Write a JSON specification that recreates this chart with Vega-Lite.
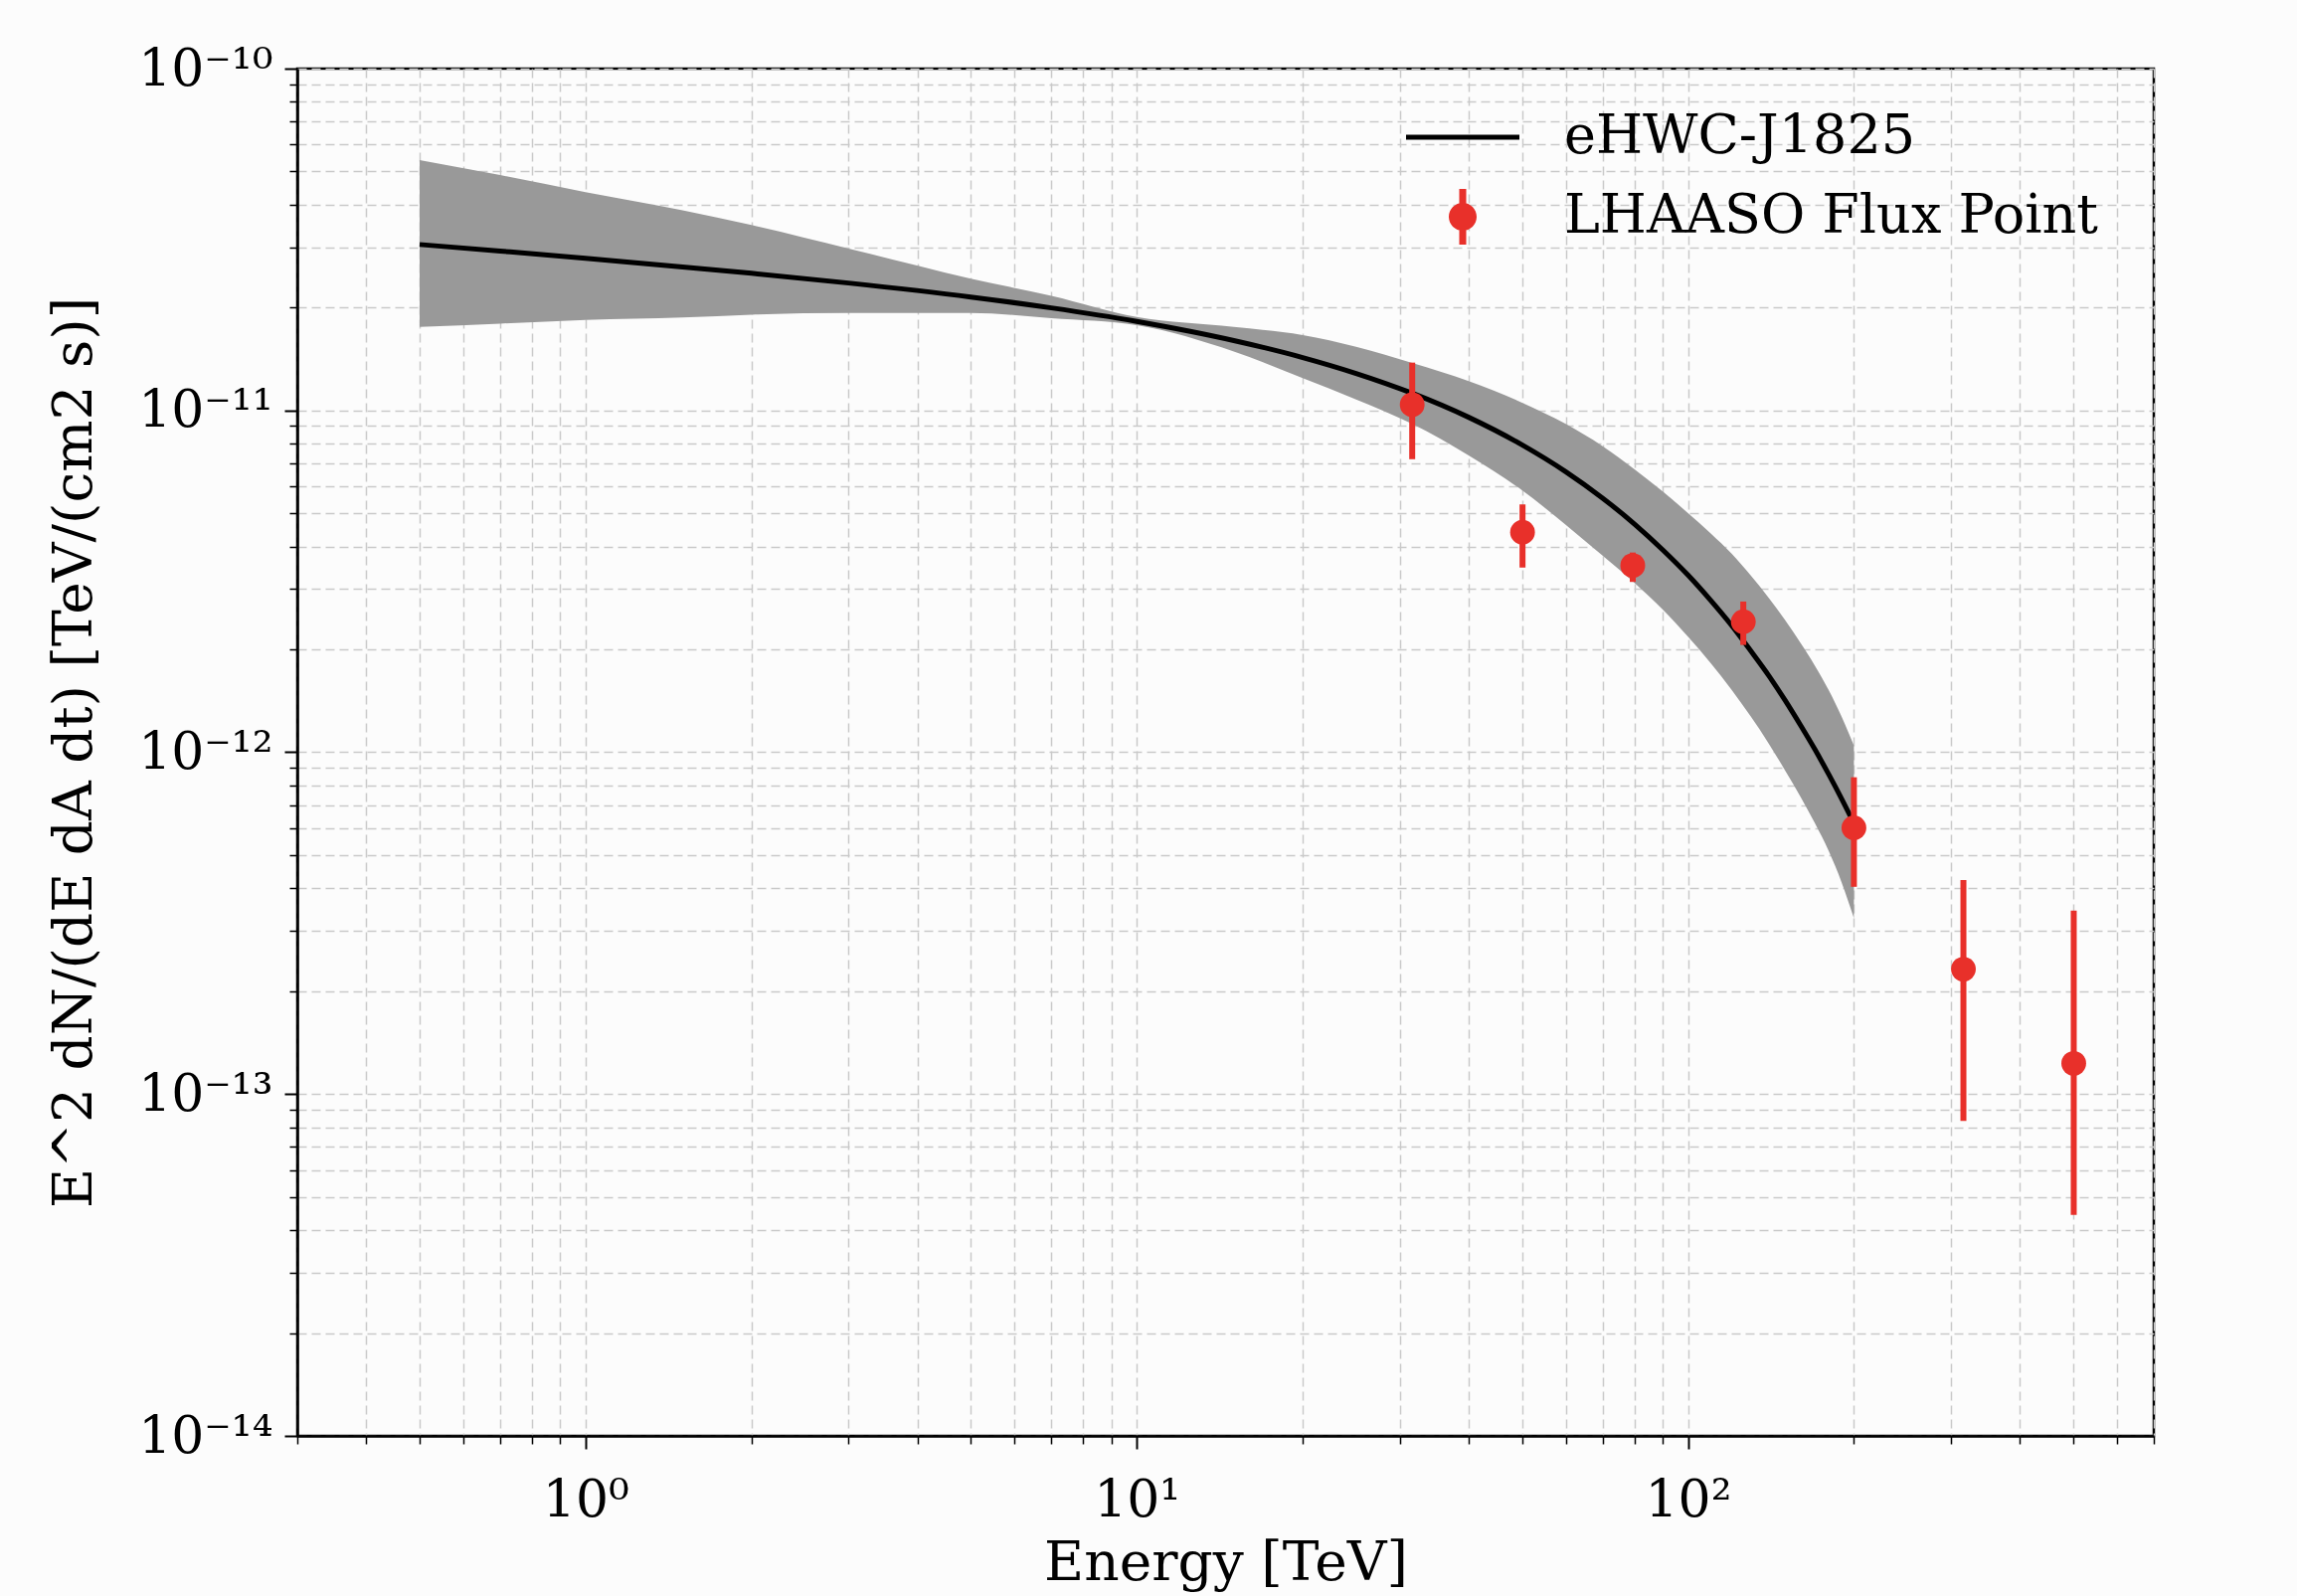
{
  "$schema": "https://vega.github.io/schema/vega-lite/v6.json",
  "width": 1867,
  "height": 1375,
  "autosize": {"type": "none"},
  "padding": {"left": 299, "top": 69, "right": 144, "bottom": 161},
  "background": "#fcfcfc",
  "config": {
    "view": {"stroke": "#000000", "strokeWidth": 2.5, "fill": "#fcfcfc"},
    "axis": {
      "grid": true,
      "gridColor": "#c9c9c9",
      "gridDash": [9, 5],
      "gridWidth": 1.5,
      "domainColor": "#000000",
      "domainWidth": 2.5,
      "tickColor": "#000000",
      "labelFont": "DejaVu Serif",
      "labelFontSize": 52,
      "labelColor": "#000000",
      "labelOverlap": false,
      "labelFlush": false,
      "labelBound": false,
      "titleFont": "DejaVu Serif",
      "titleFontSize": 55,
      "titleFontWeight": "normal",
      "titleColor": "#000000"
    }
  },
  "datasets": {
    "model": [
      {"E": 0.5, "flux": 3.058e-11, "lower": 1.755e-11, "upper": 5.40e-11, "series": "eHWC-J1825"},
      {"E": 0.7, "flux": 2.925e-11, "lower": 1.795e-11, "upper": 4.88e-11, "series": "eHWC-J1825"},
      {"E": 1, "flux": 2.787e-11, "lower": 1.841e-11, "upper": 4.35e-11, "series": "eHWC-J1825"},
      {"E": 1.5, "flux": 2.630e-11, "lower": 1.871e-11, "upper": 3.85e-11, "series": "eHWC-J1825"},
      {"E": 2, "flux": 2.519e-11, "lower": 1.907e-11, "upper": 3.486e-11, "series": "eHWC-J1825"},
      {"E": 3, "flux": 2.359e-11, "lower": 1.927e-11, "upper": 2.977e-11, "series": "eHWC-J1825"},
      {"E": 5, "flux": 2.147e-11, "lower": 1.927e-11, "upper": 2.431e-11, "series": "eHWC-J1825"},
      {"E": 7, "flux": 1.995e-11, "lower": 1.862e-11, "upper": 2.163e-11, "series": "eHWC-J1825"},
      {"E": 10, "flux": 1.821e-11, "lower": 1.775e-11, "upper": 1.876e-11, "series": "eHWC-J1825"},
      {"E": 15, "flux": 1.601e-11, "lower": 1.487e-11, "upper": 1.755e-11, "series": "eHWC-J1825"},
      {"E": 20, "flux": 1.428e-11, "lower": 1.243e-11, "upper": 1.662e-11, "series": "eHWC-J1825"},
      {"E": 25, "flux": 1.283e-11, "lower": 1.077e-11, "upper": 1.536e-11, "series": "eHWC-J1825"},
      {"E": 31.6, "flux": 1.123e-11, "lower": 9.13e-12, "upper": 1.378e-11, "series": "eHWC-J1825"},
      {"E": 40, "flux": 9.55e-12, "lower": 7.38e-12, "upper": 1.219e-11, "series": "eHWC-J1825"},
      {"E": 50, "flux": 7.93e-12, "lower": 5.84e-12, "upper": 1.054e-11, "series": "eHWC-J1825"},
      {"E": 60, "flux": 6.62e-12, "lower": 4.63e-12, "upper": 9.13e-12, "series": "eHWC-J1825"},
      {"E": 70, "flux": 5.54e-12, "lower": 3.76e-12, "upper": 7.86e-12, "series": "eHWC-J1825"},
      {"E": 80, "flux": 4.65e-12, "lower": 3.13e-12, "upper": 6.72e-12, "series": "eHWC-J1825"},
      {"E": 90, "flux": 3.91e-12, "lower": 2.615e-12, "upper": 5.79e-12, "series": "eHWC-J1825"},
      {"E": 100, "flux": 3.30e-12, "lower": 2.178e-12, "upper": 5.01e-12, "series": "eHWC-J1825"},
      {"E": 110, "flux": 2.78e-12, "lower": 1.820e-12, "upper": 4.365e-12, "series": "eHWC-J1825"},
      {"E": 120, "flux": 2.35e-12, "lower": 1.523e-12, "upper": 3.81e-12, "series": "eHWC-J1825"},
      {"E": 130, "flux": 1.98e-12, "lower": 1.272e-12, "upper": 3.29e-12, "series": "eHWC-J1825"},
      {"E": 140, "flux": 1.68e-12, "lower": 1.063e-12, "upper": 2.836e-12, "series": "eHWC-J1825"},
      {"E": 150, "flux": 1.42e-12, "lower": 8.85e-13, "upper": 2.438e-12, "series": "eHWC-J1825"},
      {"E": 160, "flux": 1.20e-12, "lower": 7.41e-13, "upper": 2.088e-12, "series": "eHWC-J1825"},
      {"E": 170, "flux": 1.018e-12, "lower": 6.19e-13, "upper": 1.789e-12, "series": "eHWC-J1825"},
      {"E": 180, "flux": 8.62e-13, "lower": 5.14e-13, "upper": 1.520e-12, "series": "eHWC-J1825"},
      {"E": 190, "flux": 7.31e-13, "lower": 4.16e-13, "upper": 1.271e-12, "series": "eHWC-J1825"},
      {"E": 200, "flux": 6.20e-13, "lower": 3.27e-13, "upper": 1.046e-12, "series": "eHWC-J1825"}
    ],
    "points": [
      {"E": 31.6, "flux": 1.04e-11, "lo": 7.2e-12, "hi": 1.38e-11, "series": "LHAASO Flux Point"},
      {"E": 50.1, "flux": 4.40e-12, "lo": 3.47e-12, "hi": 5.31e-12, "series": "LHAASO Flux Point"},
      {"E": 79.4, "flux": 3.52e-12, "lo": 3.15e-12, "hi": 3.84e-12, "series": "LHAASO Flux Point"},
      {"E": 126, "flux": 2.41e-12, "lo": 2.06e-12, "hi": 2.76e-12, "series": "LHAASO Flux Point"},
      {"E": 200, "flux": 6.01e-13, "lo": 4.04e-13, "hi": 8.45e-13, "series": "LHAASO Flux Point"},
      {"E": 316, "flux": 2.32e-13, "lo": 8.34e-14, "hi": 4.23e-13, "series": "LHAASO Flux Point"},
      {"E": 501, "flux": 1.23e-13, "lo": 4.43e-14, "hi": 3.44e-13, "series": "LHAASO Flux Point"}
    ]
  },
  "layer": [
    {
      "data": {"name": "model"},
      "mark": {"type": "area", "color": "#999999", "opacity": 1, "interpolate": "monotone"},
      "encoding": {
        "x": {
          "field": "E", "type": "quantitative", "title": "Energy [TeV]",
          "scale": {"type": "log", "domain": [0.3, 700], "nice": false},
          "axis": {
            "values": [0.3,0.4,0.5,0.6,0.7,0.8,0.9,1,2,3,4,5,6,7,8,9,10,20,30,40,50,60,70,80,90,100,200,300,400,500,600,700],
            "labelExpr": "datum.value == 1 ? '10⁰' : datum.value == 10 ? '10¹' : datum.value == 100 ? '10²' : ''",
            "tickSize": {"condition": {"test": "datum.value == 1 || datum.value == 10 || datum.value == 100", "value": 13}, "value": 8},
            "tickWidth": {"condition": {"test": "datum.value == 1 || datum.value == 10 || datum.value == 100", "value": 2}, "value": 1.5},
            "labelPadding": 26,
            "titleY": 144,
            "titleBaseline": "alphabetic"
          }
        },
        "y": {
          "field": "upper", "type": "quantitative", "title": "E^2 dN/(dE dA dt) [TeV/(cm2 s)]",
          "scale": {"type": "log", "domain": [1e-14, 1e-10], "nice": false},
          "axis": {
            "values": [1e-14,2e-14,3e-14,4e-14,5e-14,6e-14,7e-14,8e-14,9e-14,1e-13,2e-13,3e-13,4e-13,5e-13,6e-13,7e-13,8e-13,9e-13,1e-12,2e-12,3e-12,4e-12,5e-12,6e-12,7e-12,8e-12,9e-12,1e-11,2e-11,3e-11,4e-11,5e-11,6e-11,7e-11,8e-11,9e-11,1e-10],
            "labelExpr": "datum.value == 1e-10 ? '10⁻¹⁰' : datum.value == 1e-11 ? '10⁻¹¹' : datum.value == 1e-12 ? '10⁻¹²' : datum.value == 1e-13 ? '10⁻¹³' : datum.value == 1e-14 ? '10⁻¹⁴' : ''",
            "tickSize": {"condition": {"test": "datum.value == 1e-10 || datum.value == 1e-11 || datum.value == 1e-12 || datum.value == 1e-13 || datum.value == 1e-14", "value": 13}, "value": 8},
            "tickWidth": {"condition": {"test": "datum.value == 1e-10 || datum.value == 1e-11 || datum.value == 1e-12 || datum.value == 1e-13 || datum.value == 1e-14", "value": 2}, "value": 1.5},
            "labelPadding": 12,
            "titleX": -225,
            "titleBaseline": "middle"
          }
        },
        "y2": {"field": "lower"}
      }
    },
    {
      "data": {"name": "model"},
      "mark": {"type": "line", "strokeWidth": 5, "interpolate": "monotone"},
      "encoding": {
        "x": {"field": "E", "type": "quantitative", "title": "Energy [TeV]"},
        "y": {"field": "flux", "type": "quantitative", "title": "E^2 dN/(dE dA dt) [TeV/(cm2 s)]"},
        "color": {
          "field": "series", "type": "nominal",
          "scale": {"domain": ["eHWC-J1825", "LHAASO Flux Point"], "range": ["#000000", "#e8302a"]},
          "legend": {
            "orient": "none",
            "legendX": 1142,
            "legendY": 39,
            "title": null,
            "padding": 0,
            "labelFont": "DejaVu Serif",
            "labelFontSize": 54,
            "labelColor": "#000000",
            "labelOffset": 72,
            "labelLimit": 1000,
            "symbolSize": 3600,
            "rowPadding": 23,
            "encode": {
              "symbols": {
                "update": {
                  "shape": {"signal": "datum.value === 'eHWC-J1825' ? 'M-1.9,-0.083L1.9,-0.083L1.9,0.083L-1.9,0.083Z' : 'M-0.117,-0.933L0.117,-0.933L0.117,0.933L-0.117,0.933ZM-0.467,0A0.467,0.467,0,1,1,0.467,0A0.467,0.467,0,1,1,-0.467,0Z'"},
                  "fill": {"signal": "datum.value === 'eHWC-J1825' ? '#000000' : '#e8302a'"},
                  "stroke": {"value": "transparent"},
                  "strokeWidth": {"value": 0},
                  "opacity": {"value": 1},
                  "fillOpacity": {"value": 1}
                }
              }
            }
          }
        }
      }
    },
    {
      "data": {"name": "points"},
      "mark": {"type": "rule", "color": "#e8302a", "strokeWidth": 6},
      "encoding": {
        "x": {"field": "E", "type": "quantitative", "title": "Energy [TeV]"},
        "y": {"field": "lo", "type": "quantitative", "title": "E^2 dN/(dE dA dt) [TeV/(cm2 s)]"},
        "y2": {"field": "hi"}
      }
    },
    {
      "data": {"name": "points"},
      "mark": {"type": "point", "filled": true, "shape": "circle", "size": 620, "opacity": 1},
      "encoding": {
        "x": {"field": "E", "type": "quantitative", "title": "Energy [TeV]"},
        "y": {"field": "flux", "type": "quantitative", "title": "E^2 dN/(dE dA dt) [TeV/(cm2 s)]"},
        "color": {"field": "series", "type": "nominal"}
      }
    }
  ]
}
